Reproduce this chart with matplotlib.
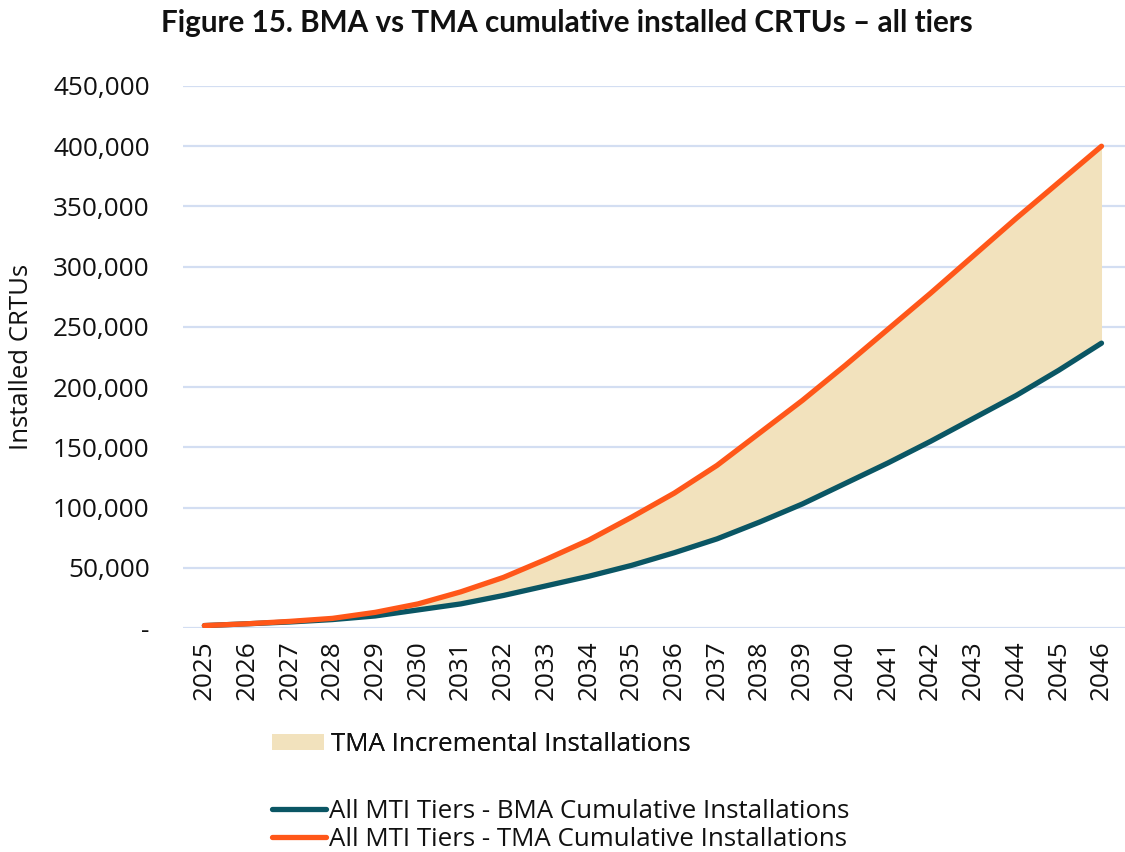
import matplotlib
matplotlib.use("Agg")
import matplotlib.pyplot as plt
from matplotlib.ticker import FuncFormatter, MultipleLocator
from matplotlib.patches import Patch
from matplotlib.lines import Line2D

years = list(range(2025, 2047))
bma = [2000, 3500, 5000, 7000, 10000, 15000, 20000, 27000, 35000, 43000, 52000,
       62500, 74000, 88000, 103000, 120000, 137000, 155000, 174000, 193000, 214000, 236500]
tma = [2000, 3500, 5500, 8000, 13000, 20000, 30000, 42000, 57000, 73000, 92000,
       112000, 135000, 162000, 189000, 218000, 248000, 278000, 309000, 340000, 370000, 400000]

title = "Figure 15. BMA vs TMA cumulative installed CRTUs – all tiers"
ylabel = "Installed CRTUs"
fill_label = "TMA Incremental Installations"
bma_label = "All MTI Tiers - BMA Cumulative Installations"
tma_label = "All MTI Tiers - TMA Cumulative Installations"

plt.rcParams['font.family'] = ['Open Sans', 'DejaVu Sans']

teal = "#0A5664"
orange = "#FF5719"
fillc = "#F2E2BD"
gridc = "#D3DEF2"
txt = "#111111"

fig = plt.figure(figsize=(11.25, 8.52), dpi=100)
ax = fig.add_axes([183/1125, 1 - 628/852, 1 - 183/1125, (628 - 86)/852])

x = list(range(len(years)))
ax.fill_between(x, bma, tma, color=fillc, linewidth=0, zorder=2)
ax.plot(x, bma, color=teal, lw=3.8, solid_capstyle='round', zorder=3)
ax.plot(x, tma, color=orange, lw=3.8, solid_capstyle='round', zorder=4)

ax.set_xlim(-0.5, len(years) - 0.5 + 0.05)
ax.set_ylim(0, 450000)
ax.yaxis.set_major_locator(MultipleLocator(50000))
ax.yaxis.set_major_formatter(FuncFormatter(lambda v, p: "-" if v == 0 else f"{v:,.0f}"))
ax.set_xticks(x)
ax.set_xticklabels([str(y) for y in years], rotation=90)
ax.tick_params(axis='both', length=0, labelsize=18.8, colors=txt)
ax.tick_params(axis='y', pad=24)
ax.tick_params(axis='x', pad=9)
for s in ax.spines.values():
    s.set_visible(False)
ax.grid(axis='y', color=gridc, lw=1.6, zorder=0)
ax.set_axisbelow(True)

fig.text(22/1125, 1 - 357/852, ylabel, rotation=90, ha='center', va='center', fontsize=18.5, color=txt)
fig.text(567/1125, 1 - 23/852, title, ha='center', va='center', fontsize=21.3, fontweight='bold',
         family=['Lato', 'DejaVu Sans'], color=txt)

leg1 = fig.legend(handles=[Patch(facecolor=fillc, edgecolor='none')], labels=[fill_label],
                  loc='upper left', bbox_to_anchor=(272/1125, 1 - 732/852), frameon=False,
                  fontsize=18.6, borderpad=0, borderaxespad=0, handlelength=2.0,
                  handleheight=0.55, handletextpad=0.3, labelcolor=txt)
fig.add_artist(leg1)
leg2 = fig.legend(handles=[Line2D([0], [0], color=teal, lw=3.8, solid_capstyle='round'),
                           Line2D([0], [0], color=orange, lw=3.8, solid_capstyle='round')],
                  labels=[bma_label, tma_label],
                  loc='upper left', bbox_to_anchor=(272/1125, 1 - 799/852), frameon=False,
                  fontsize=18.6, borderpad=0, borderaxespad=0, handlelength=2.1,
                  handletextpad=0.12, labelspacing=0.1, labelcolor=txt)

fig.savefig("out.png", dpi=100)
